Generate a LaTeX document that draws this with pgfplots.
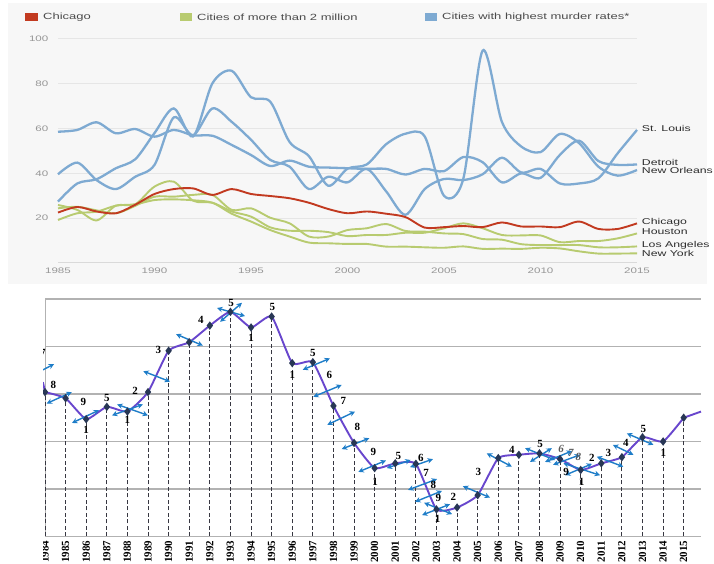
\documentclass[border=0pt]{standalone}
\usepackage{fontspec}
\setmainfont{Liberation Sans}
\newfontfamily\topfont{Liberation Sans}[FakeStretch=1.45]
\newfontfamily\serif{Liberation Serif}
\usepackage{pgfplots}
\pgfplotsset{compat=1.18}
\usetikzlibrary{arrows.meta}

\definecolor{chi}{RGB}{194,58,32}
\definecolor{big}{RGB}{184,203,112}
\definecolor{hi}{RGB}{126,170,210}
\definecolor{bggray}{RGB}{247,247,247}
\definecolor{gridc}{RGB}{230,230,230}
\definecolor{basec}{RGB}{218,218,218}
\definecolor{ticktxt}{RGB}{150,150,150}
\definecolor{legtxt}{RGB}{75,75,75}
\definecolor{labtxt}{RGB}{45,45,45}
\definecolor{wave}{RGB}{104,70,205}
\definecolor{arr}{RGB}{30,125,200}
\definecolor{mk}{RGB}{40,55,85}
\definecolor{gridb}{RGB}{178,178,178}
\definecolor{dropc}{RGB}{55,55,65}

% murder rates per 100,000
\pgfplotstableread{
year chi  hou  la   ny   stl  det  no
1985 22.5 25.9 24.4 19.2 39.6 58.6 27.4
1986 25.0 23.7 25.1 22.2 44.8 59.4 35.5
1987 23.0 19.0 23.5 22.9 37.0 62.8 37.4
1988 22.2 25.6 22.2 25.6 33.0 57.9 42.3
1989 26.0 26.2 25.5 26.2 38.5 59.8 46.3
1990 30.8 34.1 29.6 28.1 43.8 56.4 58.0
1991 33.0 36.3 29.6 28.4 65.0 59.4 69.0
1992 33.3 27.8 30.4 28.0 57.0 57.0 56.5
1993 30.4 26.9 30.4 26.9 69.0 56.8 80.2
1994 33.0 23.0 23.7 22.0 63.0 52.7 85.8
1995 30.8 20.7 24.4 18.5 55.0 48.2 74.0
1996 29.9 15.9 20.2 14.7 46.0 43.3 72.0
1997 28.9 14.4 17.7 11.8 43.0 45.7 54.0
1998 26.9 14.4 11.8 9.1  33.0 43.0 47.7
1999 24.1 13.8 11.8 8.8  38.5 42.6 34.5
2000 22.2 12.0 14.7 8.5  36.0 42.3 42.1
2001 23.0 12.5 15.5 8.5  42.0 42.0 44.0
2002 22.0 12.5 17.4 7.3  32.0 42.0 53.0
2003 20.5 13.5 14.3 7.3  21.5 39.5 57.7
2004 15.8 13.5 14.0 7.0  33.0 42.0 56.5
2005 16.0 15.5 13.2 6.8  37.5 41.0 30.0
2006 16.5 17.7 12.9 7.4  37.0 47.3 37.6
2007 16.0 15.5 10.7 6.3  39.6 45.0 94.8
2008 18.1 12.5 10.4 6.4  47.0 36.0 63.0
2009 16.3 12.3 8.4  6.3  40.4 40.0 52.0
2010 16.3 12.3 8.0  6.8  42.0 38.0 49.5
2011 16.0 9.3  8.0  6.5  35.5 48.2 57.6
2012 18.5 9.8  8.0  5.2  35.5 54.6 53.5
2013 15.2 9.8  7.0  4.2  37.8 45.5 43.0
2014 15.2 11.0 7.0  4.2  49.0 43.8 39.0
2015 17.7 13.2 7.4  4.3  59.4 44.0 41.5
}\topdata

\pgfplotstableread{
year v
1984 3.04
1985 2.91
1986 2.47
1987 2.73
1988 2.63
1989 3.04
1990 3.91
1991 4.09
1992 4.44
1993 4.73
1994 4.40
1995 4.63
1996 3.65
1997 3.67
1998 2.75
1999 1.97
2000 1.44
2001 1.54
2002 1.53
2003 0.57
2004 0.61
2005 0.87
2006 1.65
2007 1.72
2008 1.75
2009 1.63
2010 1.40
2011 1.54
2012 1.67
2013 2.09
2014 2.00
2015 2.50
}\wavedata

\begin{document}
\begin{tikzpicture}[x=1bp,y=1bp,
  ar/.style={arr, line width=1.4bp, {Stealth[length=5.5bp,width=5.5bp]}-{Stealth[length=5.5bp,width=5.5bp]}},
  lab/.style={font=\serif\bfseries\fontsize{11}{11}\selectfont, inner sep=0pt},
  ita/.style={font=\serif\bfseries\itshape\fontsize{11}{11}\selectfont, inner sep=0pt, text=black!65},
  cty/.style={anchor=west, xshift=4.7bp, inner sep=0pt, text=labtxt, font=\topfont\fontsize{8.5}{8.5}\selectfont}]
\useasboundingbox (0,0) rectangle (714,564);
\fill[bggray] (8,280) rectangle (707,561);

% legend
\fill[chi] (25,543) rectangle (38,551);
\node[anchor=west, inner sep=0pt, text=legtxt, font=\topfont\fontsize{9}{9}\selectfont] at (43,547) {Chicago};
\fill[big] (180,543) rectangle (192,551);
\node[anchor=west, inner sep=0pt, text=legtxt, font=\topfont\fontsize{9}{9}\selectfont] at (197,547) {Cities of more than 2 million};
\fill[hi] (425,543) rectangle (437,551);
\node[anchor=west, inner sep=0pt, text=legtxt, font=\topfont\fontsize{9}{9}\selectfont] at (442,547) {Cities with highest murder rates*};

\begin{axis}[
  at={(58bp,301bp)}, anchor=south west, scale only axis,
  width=579bp, height=224bp,
  xmin=1985, xmax=2015, ymin=0, ymax=100,
  axis line style={draw=none},
  major tick length=0pt,
  xtick={1985,1990,...,2015},
  ytick={20,40,...,100},
  ymajorgrids, grid style={gridc, line width=1bp},
  extra y ticks={0}, extra y tick labels={},
  extra y tick style={grid style={basec, line width=1bp}},
  tick label style={font=\topfont\fontsize{8}{8}\selectfont, text=ticktxt, inner sep=0pt},
  yticklabel shift=9.5bp,
  xticklabel shift=5bp,
  /pgf/number format/1000 sep={},
  /pgf/number format/assume math mode=true,
  clip=false,
]
\addplot[hi, line width=2.3bp, smooth] table[x=year, y=det] {\topdata};
\addplot[hi, line width=2.3bp, smooth] table[x=year, y=stl] {\topdata};
\addplot[hi, line width=2.3bp, smooth] table[x=year, y=no] {\topdata};
\addplot[big, line width=1.9bp, smooth] table[x=year, y=ny] {\topdata};
\addplot[big, line width=1.9bp, smooth] table[x=year, y=la] {\topdata};
\addplot[big, line width=1.9bp, smooth] table[x=year, y=hou] {\topdata};
\addplot[chi, line width=1.9bp, smooth] table[x=year, y=chi] {\topdata};

\node[cty] at (axis cs:2015,60.1) {St. Louis};
\node[cty] at (axis cs:2015,44.8) {Detroit};
\node[cty] at (axis cs:2015,41.3) {New Orleans};
\node[cty] at (axis cs:2015,18.0) {Chicago};
\node[cty] at (axis cs:2015,14.0) {Houston};
\node[cty] at (axis cs:2015,8.0) {Los Angeles};
\node[cty] at (axis cs:2015,4.1) {New York};
\end{axis}

\begin{axis}[
  at={(45bp,27.5bp)}, anchor=south west, scale only axis,
  width=656bp, height=237.5bp,
  xmin=1984, xmax=2015.84, ymin=0, ymax=5,
  axis x line*=bottom, axis y line*=left,
  axis line style={-, draw=gridb, line width=1bp},
  major tick length=0pt,
  xtick={1984,...,2015},
  ytick={1,...,5}, yticklabels={},
  ymajorgrids, grid style={gridb, line width=1.2bp},
  xticklabel style={rotate=90, anchor=east, inner sep=0pt,
    font=\serif\bfseries\fontsize{11}{11}\selectfont},
  xticklabel shift=4bp,
  /pgf/number format/1000 sep={},
  /pgf/number format/assume math mode=true,
  clip=false,
]
\addplot[ycomb, dropc, line width=0.8bp, dash pattern=on 4bp off 2.5bp] table[x=year, y=v] {\wavedata};
\addplot[wave, line width=1.9bp] coordinates {(1983.9,3.25) (1984,3.04)};
\addplot[wave, line width=1.9bp] coordinates {(2015,2.50) (2015.84,2.63)};
\addplot[wave, line width=1.9bp, smooth, tension=0.3, mark=diamond*, mark size=2.7bp,
  mark options={mk, fill=mk, solid}] table[x=year, y=v] {\wavedata};

% arrows
\draw[ar] (axis cs:1983.51,3.42) -- (axis cs:1984.44,3.63);
\draw[ar] (axis cs:1984.08,2.80) -- (axis cs:1985.30,3.04);
\draw[ar] (axis cs:1985.31,2.39) -- (axis cs:1986.62,2.66);
\draw[ar] (axis cs:1987.25,2.55) -- (axis cs:1988.75,2.78);
\draw[ar] (axis cs:1987.50,2.78) -- (axis cs:1989.00,2.55);
\draw[ar] (axis cs:1988.77,3.48) -- (axis cs:1990.07,3.26);
\draw[ar] (axis cs:1990.36,4.26) -- (axis cs:1991.66,4.02);
\draw[ar] (axis cs:1992.35,4.81) -- (axis cs:1993.71,4.64);
\draw[ar] (axis cs:1992.50,4.52) -- (axis cs:1993.56,4.92);
\draw[ar] (axis cs:1996.51,3.51) -- (axis cs:1997.83,3.75);
\draw[ar] (axis cs:1997.02,2.94) -- (axis cs:1998.40,3.19);
\draw[ar] (axis cs:1997.70,2.35) -- (axis cs:1999.05,2.63);
\draw[ar] (axis cs:1998.40,1.84) -- (axis cs:1999.74,2.07);
\draw[ar] (axis cs:1999.21,1.36) -- (axis cs:2000.55,1.60);
\draw[ar] (axis cs:2000.59,1.44) -- (axis cs:2001.75,1.61);
\draw[ar] (axis cs:2001.72,1.46) -- (axis cs:2002.83,1.63);
\draw[ar] (axis cs:2001.62,0.98) -- (axis cs:2003.03,1.21);
\draw[ar] (axis cs:2001.96,0.73) -- (axis cs:2003.27,0.96);
\draw[ar] (axis cs:2002.30,0.45) -- (axis cs:2003.66,0.68);
\draw[ar] (axis cs:2002.40,0.71) -- (axis cs:2003.76,0.47);
\draw[ar] (axis cs:2004.28,1.06) -- (axis cs:2005.60,0.82);
\draw[ar] (axis cs:2005.44,1.75) -- (axis cs:2006.66,1.47);
\draw[ar] (axis cs:2007.30,1.86) -- (axis cs:2008.76,1.61);
\draw[ar] (axis cs:2007.54,1.57) -- (axis cs:2008.60,1.86);
\draw[ar] (axis cs:2008.27,1.57) -- (axis cs:2009.58,1.80);
\draw[ar] (axis cs:2008.66,1.51) -- (axis cs:2009.97,1.72);
\draw[ar] (axis cs:2009.16,1.54) -- (axis cs:2010.94,1.29);
\draw[ar] (axis cs:2009.24,1.29) -- (axis cs:2010.55,1.53);
\draw[ar] (axis cs:2010.78,1.68) -- (axis cs:2012.07,1.47);
\draw[ar] (axis cs:2011.56,1.93) -- (axis cs:2012.56,1.72);
\draw[ar] (axis cs:2012.24,2.17) -- (axis cs:2013.53,1.93);

% wave counts
\node[lab] at (axis cs:1983.90,3.86) {7};
\node[lab] at (axis cs:1984.40,3.20) {8};
\node[lab] at (axis cs:1985.86,2.83) {9};
\node[lab] at (axis cs:1985.99,2.24) {1};
\node[lab] at (axis cs:1987.00,2.91) {5};
\node[lab] at (axis cs:1988.00,2.45) {1};
\node[lab] at (axis cs:1988.37,3.06) {2};
\node[lab] at (axis cs:1989.50,3.93) {3};
\node[lab] at (axis cs:1991.56,4.56) {4};
\node[lab] at (axis cs:1993.03,4.91) {5};
\node[lab] at (axis cs:1994.00,4.19) {1};
\node[lab] at (axis cs:1995.03,4.84) {5};
\node[lab] at (axis cs:1996.00,3.40) {1};
\node[lab] at (axis cs:1997.00,3.86) {5};
\node[lab] at (axis cs:1997.80,3.41) {6};
\node[lab] at (axis cs:1998.48,2.85) {7};
\node[lab] at (axis cs:1999.16,2.31) {8};
\node[lab] at (axis cs:1999.94,1.79) {9};
\node[lab] at (axis cs:2000.02,1.15) {1};
\node[lab] at (axis cs:2001.15,1.69) {5};
\node[lab] at (axis cs:2002.24,1.65) {6};
\node[lab] at (axis cs:2002.50,1.33) {7};
\node[lab] at (axis cs:2002.85,1.08) {8};
\node[lab] at (axis cs:2003.09,0.82) {9};
\node[lab] at (axis cs:2003.06,0.37) {1};
\node[lab] at (axis cs:2003.82,0.83) {2};
\node[lab] at (axis cs:2005.03,1.36) {3};
\node[lab] at (axis cs:2006.66,1.82) {4};
\node[lab] at (axis cs:2008.03,1.95) {5};
\node[ita] at (axis cs:2009.05,1.84) {6};
\node[ita] at (axis cs:2009.52,1.76) {7};
\node[ita] at (axis cs:2009.89,1.68) {8};
\node[lab] at (axis cs:2009.29,1.36) {9};
\node[lab] at (axis cs:2010.05,1.15) {1};
\node[lab] at (axis cs:2010.54,1.65) {2};
\node[lab] at (axis cs:2011.34,1.76) {3};
\node[lab] at (axis cs:2012.19,1.97) {4};
\node[lab] at (axis cs:2013.04,2.26) {5};
\node[lab] at (axis cs:2014.01,1.75) {1};
\end{axis}

% the lower picture is cropped on its left side
\fill[white] (0,0) rectangle (43,276);
\end{tikzpicture}
\end{document}
